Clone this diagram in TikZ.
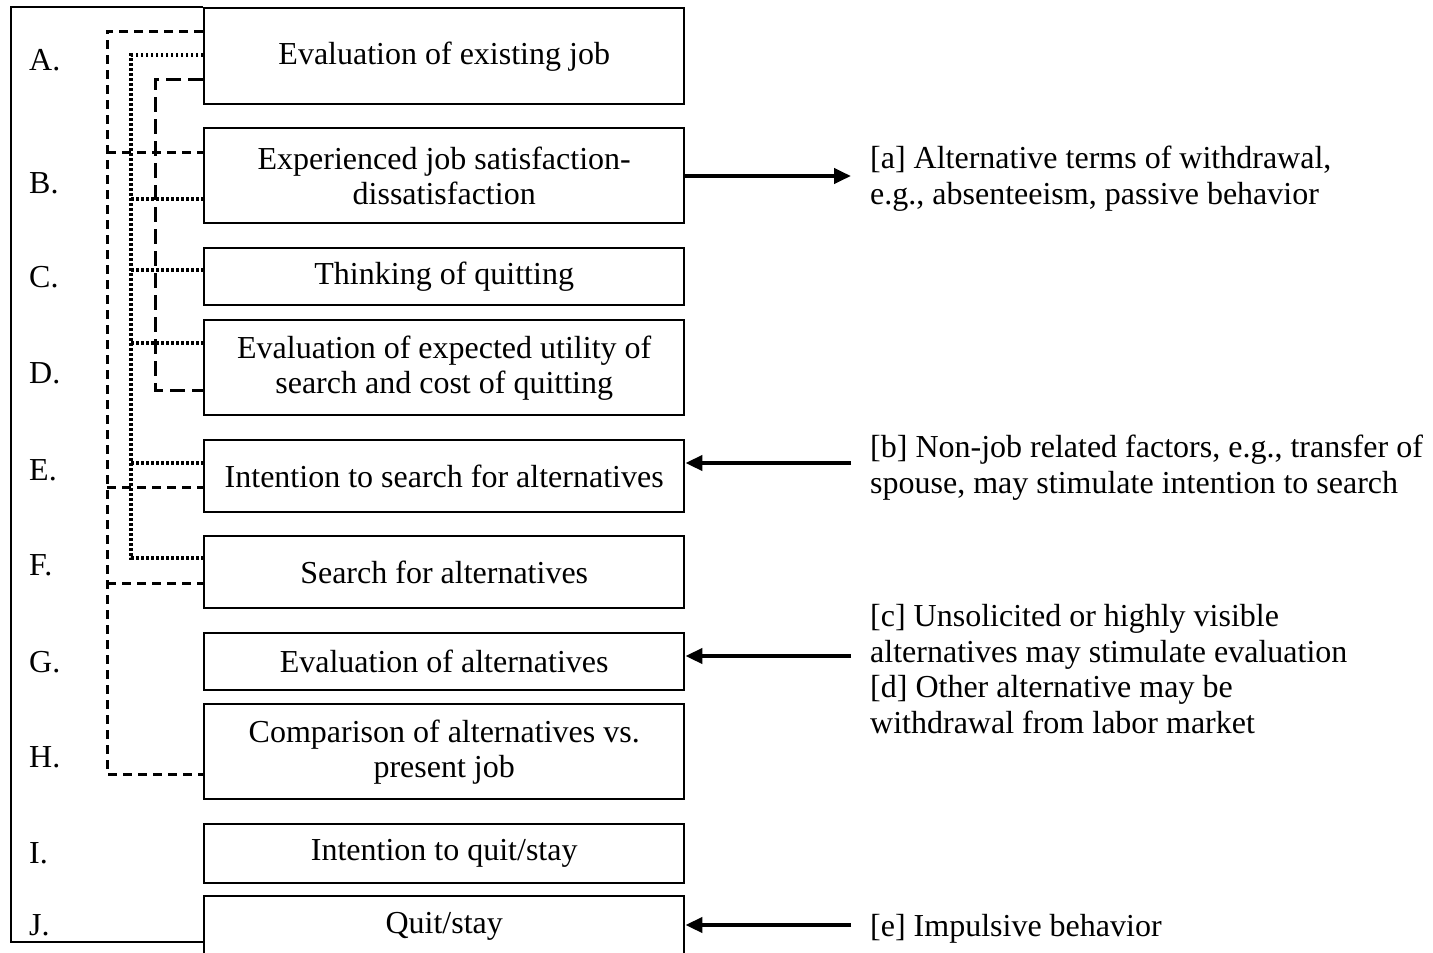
\documentclass[tikz,border=0pt]{standalone}
\usepackage{fontspec}
\setmainfont{Liberation Serif}
\usetikzlibrary{arrows.meta}
\begin{document}
\begin{tikzpicture}[x=1pt,y=-1pt,
  stage/.style={draw,line width=2.4pt,minimum width=480pt,anchor=north west,
    inner sep=0pt,align=center,font=\fontsize{32}{35}\selectfont},
  letter/.style={anchor=west,inner sep=0pt,font=\fontsize{32}{35}\selectfont},
  note/.style={anchor=base west,inner sep=0pt,align=left,font=\fontsize{32}{35.5}\selectfont},
  outerlink/.style={line width=3pt,dash pattern=on 9pt off 6pt},
  dotlink/.style={line width=3.2pt,dash pattern=on 2.5pt off 2.5pt},
  longlink/.style={line width=3pt,dash pattern=on 15pt off 7pt},
  flow/.style={line width=4pt,-{Triangle[length=17pt,width=15pt]}}]
\useasboundingbox (0,0) rectangle (1433,953);

% stages of the withdrawal process
\node[stage,minimum height=96pt] (A) at (203,7) {Evaluation of existing job};
\node[stage,minimum height=95pt] (B) at (203,127) {Experienced job satisfaction-\\dissatisfaction};
\node[stage,minimum height=57pt] (C) at (203,247) {Thinking of quitting};
\node[stage,minimum height=95pt] (D) at (203,319) {Evaluation of expected utility of\\search and cost of quitting};
\node[stage,minimum height=72pt] (E) at (203,439) {Intention to search for alternatives};
\node[stage,minimum height=72pt] (F) at (203,535) {Search for alternatives};
\node[stage,minimum height=57pt] (G) at (203,632) {Evaluation of alternatives};
\node[stage,minimum height=95pt] (H) at (203,703) {Comparison of alternatives vs.\\present job};
\node[stage,minimum height=59pt] (I) at (203,823) {Intention to quit/stay};
\node[stage,minimum height=60pt] (J) at (203,895) {Quit/stay};

% stage letters
\node[letter] (lA) at (29,60) {A.};
\node[letter] (lB) at (29,183) {B.};
\node[letter] (lC) at (29,277) {C.};
\node[letter] (lD) at (29,373) {D.};
\node[letter] (lE) at (29,470) {E.};
\node[letter] (lF) at (29,565) {F.};
\node[letter] (lG) at (29,662) {G.};
\node[letter] (lH) at (29,757) {H.};
\node[letter] (lI) at (29,853) {I.};
\node[letter] (lJ) at (29,925) {J.};

% outer frame joining the first and last stage
\draw[line width=2.4pt] (A.north west) -- (11,7) -- (11,942) -- (J.west |- 0,942);

% dashed links
\draw[outerlink] (A.west |- 0,31) -- (107,31) -- (107,774) -- (H.west |- 0,774);
\draw[outerlink] (107,152) -- (B.west |- 0,152);
\draw[outerlink] (107,487) -- (E.west |- 0,487);
\draw[outerlink] (107,583) -- (F.west |- 0,583);

% dotted links
\draw[dotlink] (A.west |- 0,55) -- (131,55) -- (131,558) -- (F.west |- 0,558);
\draw[dotlink] (131,199) -- (B.west |- 0,199);
\draw[dotlink] (131,270) -- (C.west |- 0,270);
\draw[dotlink] (131,343) -- (D.west |- 0,343);
\draw[dotlink] (131,463) -- (E.west |- 0,463);

% long-dashed link
\draw[longlink] (A.west |- 0,79) -- (155,79) -- (155,390) -- (D.west |- 0,390);

% side notes (placed by the baseline of their last line)
\node[note] (na) at (870,204) {[a] Alternative terms of withdrawal,\\e.g., absenteeism, passive behavior};
\node[note] (nb) at (870,493) {[b] Non-job related factors, e.g., transfer of\\spouse, may stimulate intention to search};
\node[note] (nc) at (870,733) {[c] Unsolicited or highly visible\\alternatives may stimulate evaluation\\{}[d] Other alternative may be\\withdrawal from labor market};
\node[note] (ne) at (870,936) {[e] Impulsive behavior};

% arrows to and from the notes
\coordinate (ta) at (851,176);
\coordinate (fb) at (851,463);
\coordinate (fc) at (851,656);
\coordinate (fe) at (851,925);
\draw[flow] (B.east |- ta) -- (ta);
\draw[flow] (fb) -- (E.east |- fb);
\draw[flow] (fc) -- (G.east |- fc);
\draw[flow] (fe) -- (J.east |- fe);
\end{tikzpicture}
\end{document}
